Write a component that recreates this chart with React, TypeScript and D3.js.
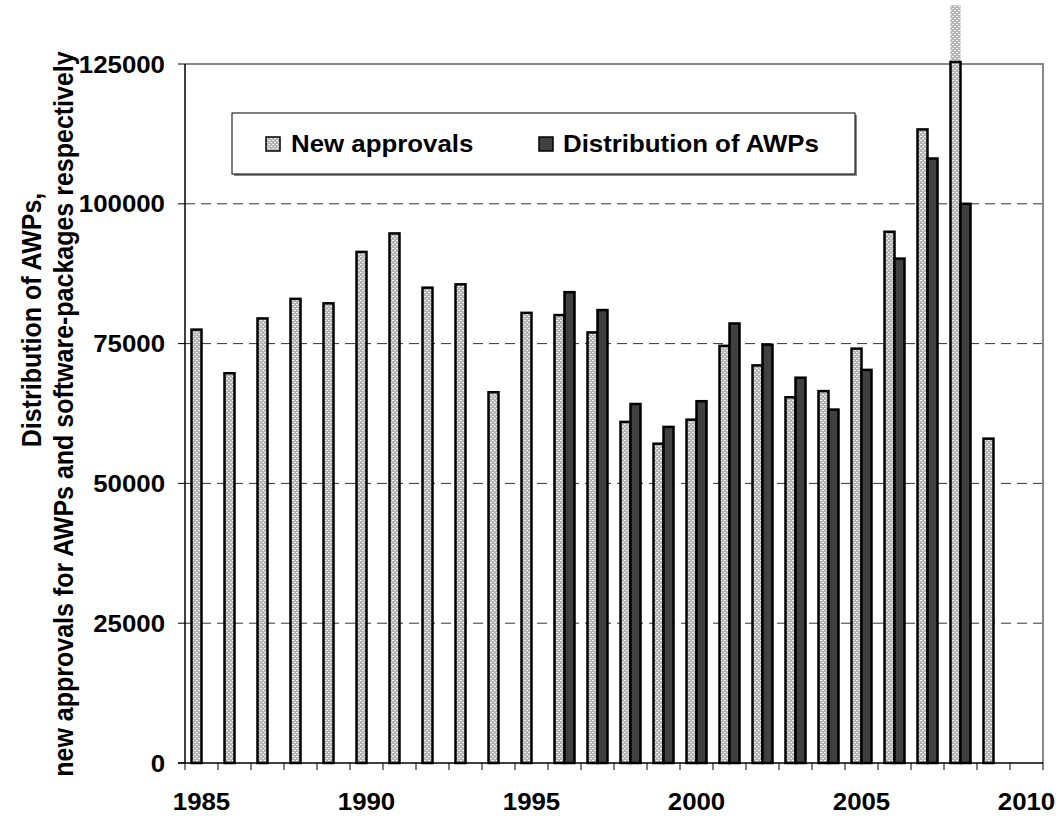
import React, { useRef, useEffect } from "react";
import * as d3 from "d3";

const years = d3.range(1985, 2011).map(String);
// new approvals (dotted bars), null where no bar
const newApprovals: (number | null)[] = [
  77500, 69700, 79500, 83000, 82200, 91400, 94700, 85000, 85600, 66300,
  80500, 80100, 77000, 61000, 57100, 61400, 74600, 71100, 65400, 66500,
  74100, 95000, 113300, 135500, 58000, null,
];
// distribution of AWPs (dark bars)
const distribution: (number | null)[] = [
  null, null, null, null, null, null, null, null, null, null, null,
  84200, 81000, 64200, 60100, 64700, 78600, 74800, 68900, 63200, 70300,
  90200, 108100, 100000, null, null,
];
const yTicks = [0, 25000, 50000, 75000, 100000, 125000];
const xLabels = ["1985", "1990", "1995", "2000", "2005", "2010"];
const seriesNames = ["New approvals", "Distribution of AWPs"];

const FONT = "'Liberation Sans', Arial, sans-serif";

const App: React.FC = () => {
  const ref = useRef<SVGSVGElement | null>(null);

  useEffect(() => {
    if (!ref.current) return;
    const svg = d3.select(ref.current);
    svg.selectAll("*").remove();

    const width = 1056;
    const height = 816;
    const left = 185, right = 1043, top = 64, bottom = 763;
    const stretch = 1.1;

    svg.attr("width", width).attr("height", height);

    // dotted pattern for new approvals
    const defs = svg.append("defs");
    const pat = defs
      .append("pattern")
      .attr("id", "dots")
      .attr("patternUnits", "userSpaceOnUse")
      .attr("width", 4)
      .attr("height", 4);
    pat.append("rect").attr("width", 4).attr("height", 4).attr("fill", "#b3b3b3");
    pat.append("rect").attr("x", 0).attr("y", 0).attr("width", 2).attr("height", 1).attr("fill", "#f2f2f2");
    pat.append("rect").attr("x", 2).attr("y", 2).attr("width", 2).attr("height", 1).attr("fill", "#f2f2f2");

    const x = d3.scaleBand().domain(years).range([left, right]).paddingInner(0).paddingOuter(0);
    const sub = d3
      .scaleBand()
      .domain(["new", "dist"])
      .range([0, x.bandwidth()])
      .paddingInner(0)
      .paddingOuter(0.65);
    const y = d3.scaleLinear().domain([0, 125000]).range([bottom, top]);

    // gridlines
    svg
      .append("g")
      .selectAll("line")
      .data(yTicks.filter((t) => t > 0 && t < 125000))
      .enter()
      .append("line")
      .attr("x1", left)
      .attr("x2", right)
      .attr("y1", (d) => y(d))
      .attr("y2", (d) => y(d))
      .attr("stroke", "#333")
      .attr("stroke-width", 1)
      .attr("stroke-dasharray", "10,6");

    // plot frame (top + right gray)
    svg
      .append("path")
      .attr("d", `M${left},${top}H${right}V${bottom}`)
      .attr("fill", "none")
      .attr("stroke", "#888")
      .attr("stroke-width", 2);

    // new approvals bars
    const newData = years
      .map((yr, i) => ({ yr, v: newApprovals[i] }))
      .filter((d) => d.v != null) as { yr: string; v: number }[];
    const g1 = svg.append("g");
    g1.selectAll("rect.fill")
      .data(newData)
      .enter()
      .append("rect")
      .attr("x", (d) => x(d.yr)! + sub("new")!)
      .attr("y", (d) => y(d.v))
      .attr("width", sub.bandwidth())
      .attr("height", (d) => y(0) - y(d.v))
      .attr("fill", "url(#dots)");
    g1.selectAll("rect.outline")
      .data(newData)
      .enter()
      .append("rect")
      .attr("x", (d) => x(d.yr)! + sub("new")!)
      .attr("y", (d) => Math.max(y(d.v), top - 2))
      .attr("width", sub.bandwidth())
      .attr("height", (d) => y(0) - Math.max(y(d.v), top - 2))
      .attr("fill", "none")
      .attr("stroke", "#000")
      .attr("stroke-width", 2.5);

    // distribution bars
    const distData = years
      .map((yr, i) => ({ yr, v: distribution[i] }))
      .filter((d) => d.v != null) as { yr: string; v: number }[];
    svg
      .append("g")
      .selectAll("rect")
      .data(distData)
      .enter()
      .append("rect")
      .attr("x", (d) => x(d.yr)! + sub("dist")!)
      .attr("y", (d) => y(d.v))
      .attr("width", sub.bandwidth())
      .attr("height", (d) => y(0) - y(d.v))
      .attr("fill", "#404040")
      .attr("stroke", "#000")
      .attr("stroke-width", 2.5);

    // axes
    svg
      .append("line")
      .attr("x1", left).attr("x2", left)
      .attr("y1", top).attr("y2", bottom)
      .attr("stroke", "#000").attr("stroke-width", 1.5);
    svg
      .append("line")
      .attr("x1", left - 7).attr("x2", right)
      .attr("y1", bottom).attr("y2", bottom)
      .attr("stroke", "#000").attr("stroke-width", 1.5);

    // y ticks + labels
    const yAxis = svg.append("g");
    yAxis
      .selectAll("line")
      .data(yTicks)
      .enter()
      .append("line")
      .attr("x1", left - 7)
      .attr("x2", left)
      .attr("y1", (d) => y(d))
      .attr("y2", (d) => y(d))
      .attr("stroke", "#000");
    yAxis
      .selectAll("text")
      .data(yTicks)
      .enter()
      .append("text")
      .attr("transform", (d) => `translate(165,${y(d) + 8.5}) scale(${stretch},1)`)
      .attr("text-anchor", "end")
      .style("font-family", FONT)
      .style("font-weight", "bold")
      .style("font-size", "23.5px")
      .text((d) => String(d));

    // x ticks + labels
    const boundaries = [...years.map((yr) => x(yr)!), right];
    const xAxis = svg.append("g");
    xAxis
      .selectAll("line")
      .data(boundaries)
      .enter()
      .append("line")
      .attr("x1", (d) => d)
      .attr("x2", (d) => d)
      .attr("y1", bottom)
      .attr("y2", bottom + 7)
      .attr("stroke", "#000");
    xAxis
      .selectAll("text")
      .data(xLabels)
      .enter()
      .append("text")
      .attr("transform", (d) => `translate(${x(d)! + x.bandwidth() / 2},810) scale(${stretch},1)`)
      .attr("text-anchor", "middle")
      .style("font-family", FONT)
      .style("font-weight", "bold")
      .style("font-size", "23.5px")
      .text((d) => d);

    // y axis title (two lines)
    const titleLines = [
      { text: "Distribution of AWPs,", bx: 41, cy: 320 },
      { text: "new approvals for AWPs and software-packages respectively", bx: 73, cy: 414 },
    ];
    svg
      .append("g")
      .selectAll("text")
      .data(titleLines)
      .enter()
      .append("text")
      .attr("transform", (d) => `translate(${d.bx},${d.cy}) scale(${stretch},1) rotate(-90)`)
      .attr("text-anchor", "middle")
      .style("font-family", FONT)
      .style("font-weight", "bold")
      .style("font-size", "25px")
      .text((d) => d.text);

    // legend
    const legend = svg.append("g");
    legend
      .append("rect")
      .attr("x", 234).attr("y", 115).attr("width", 623).attr("height", 61)
      .attr("fill", "#888");
    legend
      .append("rect")
      .attr("x", 232).attr("y", 113).attr("width", 623).attr("height", 61)
      .attr("fill", "#fff").attr("stroke", "#000").attr("stroke-width", 1);
    const items = [
      { name: seriesNames[0], fill: "url(#dots)", sx: 266, tx: 291 },
      { name: seriesNames[1], fill: "#404040", sx: 539, tx: 563 },
    ];
    items.forEach((it) => {
      legend
        .append("rect")
        .attr("x", it.sx).attr("y", 137).attr("width", 14).attr("height", 14)
        .attr("fill", it.fill).attr("stroke", "#000").attr("stroke-width", 1.5);
      legend
        .append("text")
        .attr("transform", `translate(${it.tx},152) scale(${stretch},1)`)
        .style("font-family", FONT)
        .style("font-weight", "bold")
        .style("font-size", "23.5px")
        .text(it.name);
    });
  }, []);

  return <svg ref={ref} style={{ position: "absolute", left: 0, top: 0, background: "#fff" }}></svg>;
};

export default App;
